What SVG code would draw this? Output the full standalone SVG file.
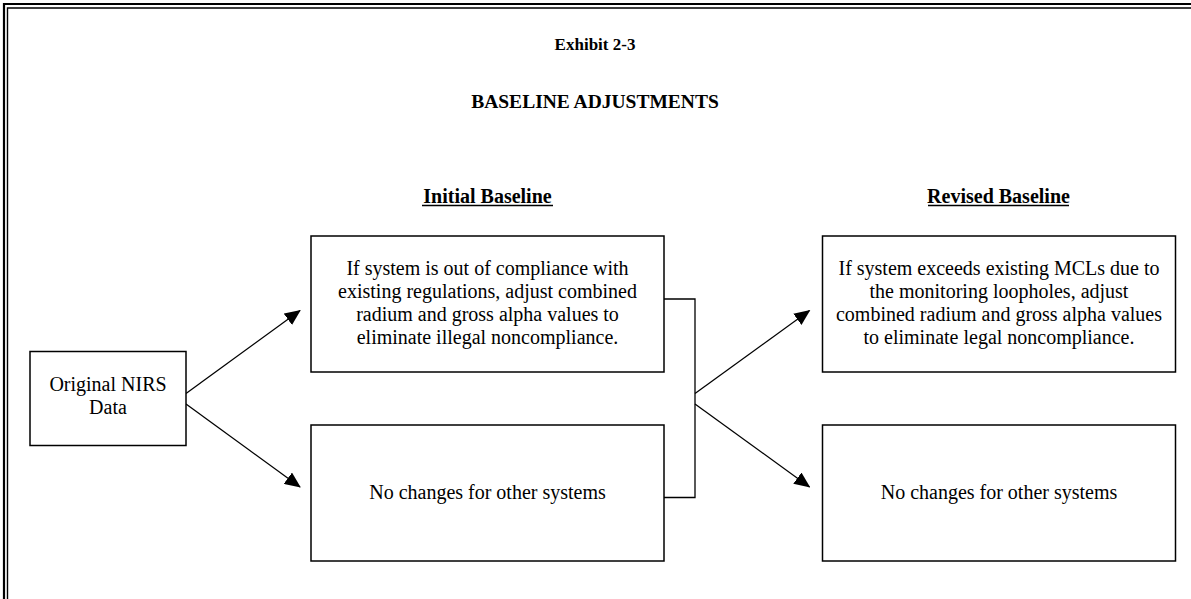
<svg xmlns="http://www.w3.org/2000/svg" width="1191" height="599" viewBox="0 0 1191 599">
  <style>
    .box { fill: #ffffff; stroke: #000000; stroke-width: 1.5; }
    .conn { fill: none; stroke: #000000; stroke-width: 1.3; }
    .body { font-family: "Liberation Serif", "Times New Roman", serif; font-size: 20px; fill: #000000; text-anchor: middle; }
    .title { font-family: "Liberation Serif", "Times New Roman", serif; font-size: 17px; font-weight: bold; fill: #000000; text-anchor: middle; }
    .title.big { font-size: 19.5px; }
    .head { font-family: "Liberation Serif", "Times New Roman", serif; font-size: 20px; font-weight: bold; fill: #000000; text-anchor: middle; }
    .rule { stroke: #000000; stroke-width: 1.5; }
    .frame { fill: none; stroke: #000000; }
  </style>
  <defs>
    <marker id="arrow" markerUnits="userSpaceOnUse" markerWidth="16" markerHeight="14" refX="15" refY="7" orient="auto">
      <path d="M0,0 L16,7 L0,14 Z" fill="#000000"/>
    </marker>
  </defs>
  <rect x="0" y="0" width="1191" height="599" fill="#ffffff"/>

  <!-- page frame: double rule along top and left -->
  <g id="frame">
    <path class="frame" d="M4,599 V4 H1191" stroke-width="2.2"/>
    <path class="frame" d="M7.5,599 V8 H1191" stroke-width="1.4"/>
  </g>

  <!-- headings -->
  <g id="titles">
    <text class="title" x="595" y="50">Exhibit 2-3</text>
    <text class="title big" x="595" y="108">BASELINE ADJUSTMENTS</text>
  </g>
  <g id="heading-initial">
    <text class="head" x="487.5" y="203">Initial Baseline</text>
    <line class="rule" x1="422" y1="205.5" x2="553" y2="205.5"/>
  </g>
  <g id="heading-revised">
    <text class="head" x="998.5" y="203">Revised Baseline</text>
    <line class="rule" x1="928" y1="205.5" x2="1069" y2="205.5"/>
  </g>

  <!-- connectors -->
  <g id="connectors">
    <line class="conn" x1="186" y1="393.5" x2="300" y2="310.5" marker-end="url(#arrow)"/>
    <line class="conn" x1="186" y1="404" x2="300" y2="487" marker-end="url(#arrow)"/>
    <path class="conn" d="M664,299 H695 V497.5 H664"/>
    <line class="conn" x1="695" y1="393.5" x2="809.5" y2="310.5" marker-end="url(#arrow)"/>
    <line class="conn" x1="695" y1="404" x2="809.5" y2="487" marker-end="url(#arrow)"/>
  </g>

  <!-- nodes -->
  <g id="node-original">
    <rect class="box" x="30" y="351.5" width="156" height="94"/>
    <text class="body" x="108" y="391">Original NIRS</text>
    <text class="body" x="108" y="414">Data</text>
  </g>
  <g id="node-initial-noncompliance">
    <rect class="box" x="311" y="236" width="353" height="136"/>
    <text class="body" x="487.5" y="275">If system is out of compliance with</text>
    <text class="body" x="487.5" y="298">existing regulations, adjust combined</text>
    <text class="body" x="487.5" y="321">radium and gross alpha values to</text>
    <text class="body" x="487.5" y="344">eliminate illegal noncompliance.</text>
  </g>
  <g id="node-initial-other">
    <rect class="box" x="311" y="425" width="353" height="136"/>
    <text class="body" x="487.5" y="499">No changes for other systems</text>
  </g>
  <g id="node-revised-mcl">
    <rect class="box" x="822.5" y="236" width="353" height="136"/>
    <text class="body" x="999" y="275">If system exceeds existing MCLs due to</text>
    <text class="body" x="999" y="298">the monitoring loopholes, adjust</text>
    <text class="body" x="999" y="321">combined radium and gross alpha values</text>
    <text class="body" x="999" y="344">to eliminate legal noncompliance.</text>
  </g>
  <g id="node-revised-other">
    <rect class="box" x="822.5" y="425" width="353" height="136"/>
    <text class="body" x="999" y="499">No changes for other systems</text>
  </g>
</svg>
